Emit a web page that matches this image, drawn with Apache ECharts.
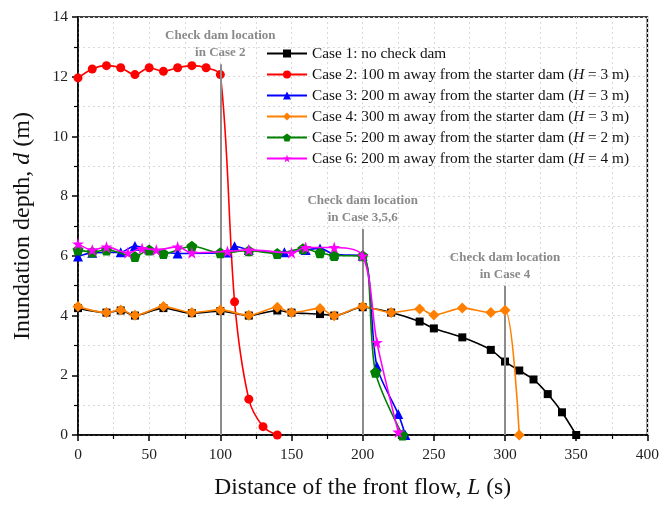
<!DOCTYPE html>
<html><head><meta charset="utf-8">
<script src="https://cdn.jsdelivr.net/npm/echarts@6/dist/echarts.min.js"></script>
<style>html,body{margin:0;padding:0;background:#fff}#c{width:662px;height:505px}</style>
</head><body><div id="c"></div>
<script>
// ---- data ----
const seriesNames = [
  'Case 1: no check dam',
  'Case 2: 100 m away from the starter dam (H = 3 m)',
  'Case 3: 200 m away from the starter dam (H = 3 m)',
  'Case 4: 300 m away from the starter dam (H = 3 m)',
  'Case 5: 200 m away from the starter dam (H = 2 m)',
  'Case 6: 200 m away from the starter dam (H = 4 m)'
];
const case1X = [0,20,30,40,60,80,100,120,140,150,170,180,200,220,240,250,270,290,300,310,320,330,340,350];
const case1Y = [4.25,4.1,4.17,4.0,4.25,4.08,4.15,4.0,4.17,4.1,4.05,4.0,4.28,4.1,3.8,3.57,3.27,2.85,2.46,2.16,1.86,1.37,0.76,0];
const case2X = [0,10,20,30,40,50,60,70,80,90,100,110,120,130,140];
const case2Y = [11.96,12.26,12.37,12.3,12.07,12.3,12.18,12.3,12.37,12.3,12.07,4.46,1.2,0.28,0];
const case3X = [0,10,30,40,50,70,105,110,120,145,160,170,180,200,210,225,230];
const case3Y = [5.98,6.1,6.12,6.33,6.22,6.08,6.11,6.32,6.2,6.12,6.2,6.25,6.05,6.0,2.3,0.7,0];
const case4X = [0,20,30,40,60,80,100,120,140,150,170,180,200,220,240,250,270,290,300,310];
const case4Y = [4.3,4.1,4.19,4.01,4.3,4.1,4.19,4.01,4.28,4.1,4.24,3.99,4.3,4.1,4.22,4.02,4.25,4.1,4.18,0];
const case5X = [0,10,20,40,50,60,80,100,120,140,158,170,180,200,209,228];
const case5Y = [6.2,6.13,6.2,5.98,6.2,6.08,6.32,6.1,6.17,6.08,6.24,6.1,6.01,6.0,2.1,0];
const case6X = [0,10,20,35,45,55,70,80,105,120,150,160,180,200,210,225];
const case6Y = [6.4,6.2,6.3,6.1,6.25,6.2,6.3,6.1,6.15,6.2,6.1,6.28,6.28,6.0,3.1,0.1];
// check dam annotation lines
const damLineX = [100, 200, 300];
const damLineTop = [12.42, 6.9, 5.0];
const damLineCase = ['Case 2', 'Case 3,5,6', 'Case 4'];
const xTicks = [0, 400, 50];
const yTicks = [0, 14, 2];

// ---- styles ----
const colors = ['#000000', '#ff0000', '#0000ff', '#ff8000', '#008000', '#ff00ff'];
const pentagon = 'path://M0,-1L0.951,-0.309L0.588,0.809L-0.588,0.809L-0.951,-0.309Z';
const star = 'path://M0,-1L0.2245,-0.309L0.951,-0.309L0.363,0.118L0.588,0.809L0,0.382L-0.588,0.809L-0.363,0.118L-0.951,-0.309L-0.2245,-0.309Z';
const symbols = ['rect', 'circle', 'triangle', 'diamond', pentagon, star];
const symSizes = [8, 9, 10, 11, 11, 12];
const FONT = 'Liberation Serif';

const xs = [case1X, case2X, case3X, case4X, case5X, case6X];
const ys = [case1Y, case2Y, case3Y, case4Y, case5Y, case6Y];

const series = seriesNames.map((name, i) => ({
  name: name,
  type: 'line',
  data: xs[i].map((x, k) => [x, ys[i][k]]),
  smooth: 0.3,
  symbol: symbols[i],
  symbolSize: symSizes[i],
  showSymbol: true,
  color: colors[i],
  lineStyle: { width: 1.6, color: colors[i] },
  itemStyle: { color: colors[i] },
  z: 3 + i,
  animation: false
}));

series.unshift({
  name: 'damLines',
  type: 'line',
  data: [],
  z: 2,
  markLine: {
    silent: true,
    symbol: ['none', 'none'],
    animation: false,
    lineStyle: { color: '#8c8c8c', width: 2, type: 'solid' },
    label: {
      show: true,
      position: 'end',
      distance: 3,
      color: '#8a8a8a',
      fontFamily: FONT,
      fontWeight: 'bold',
      fontSize: 13,
      lineHeight: 17,
      align: 'center'
    },
    data: damLineX.map((x, i) => [
      { coord: [x, 0], label: { formatter: 'Check dam location\nin ' + damLineCase[i] } },
      { coord: [x, damLineTop[i]] }
    ])
  }
});

const chart = echarts.init(document.getElementById('c'), null, { renderer: 'canvas' });
chart.setOption({
  backgroundColor: '#ffffff',
  animation: false,
  grid: {
    left: 78, right: 11, top: 17, bottom: 69,
    show: true, borderColor: '#000', borderWidth: 1.5, backgroundColor: 'transparent'
  },
  legend: {
    data: seriesNames,
    orient: 'vertical',
    left: 266,
    top: 46,
    itemWidth: 40,
    itemHeight: 10,
    itemGap: 6,
    padding: 0,
    textStyle: {
      fontFamily: FONT, fontSize: 15.3, color: '#111', lineHeight: 14,
      rich: { i: { fontFamily: FONT, fontSize: 15.3, fontStyle: 'italic', color: '#111' } }
    },
    formatter: function (n) { return n.replace('(H =', '({i|H} ='); }
  },
  xAxis: {
    type: 'value',
    min: xTicks[0], max: xTicks[1], interval: xTicks[2],
    name: '{a|Distance of the front flow, }{b|L}{a| (s)}',
    nameLocation: 'middle',
    nameGap: 41,
    nameTextStyle: {
      rich: {
        a: { fontFamily: FONT, fontSize: 23.5, color: '#111' },
        b: { fontFamily: FONT, fontSize: 23.5, fontStyle: 'italic', color: '#111' }
      }
    },
    axisLine: { show: true, onZero: false, lineStyle: { color: '#000', width: 1.5 } },
    axisTick: { show: true, inside: false, length: 6, lineStyle: { color: '#000', width: 1.5 } },
    minorTick: { show: true, splitNumber: 2, length: 4, lineStyle: { color: '#000', width: 1.2 } },
    axisLabel: { fontFamily: FONT, fontSize: 15.5, color: '#222', margin: 12 },
    splitLine: { show: true, lineStyle: { color: '#d9d9d9', type: [2, 3], width: 1 } },
    minorSplitLine: { show: true, lineStyle: { color: '#d9d9d9', type: [2, 3], width: 1 } }
  },
  yAxis: {
    type: 'value',
    min: yTicks[0], max: yTicks[1], interval: yTicks[2],
    name: '{a|Inundation depth, }{b|d}{a| (m)}',
    nameLocation: 'middle',
    nameGap: 43,
    nameTextStyle: {
      rich: {
        a: { fontFamily: FONT, fontSize: 24, color: '#111' },
        b: { fontFamily: FONT, fontSize: 24, fontStyle: 'italic', color: '#111' }
      }
    },
    axisLine: { show: true, onZero: false, lineStyle: { color: '#000', width: 1.5 } },
    axisTick: { show: true, inside: false, length: 6, lineStyle: { color: '#000', width: 1.5 } },
    minorTick: { show: true, splitNumber: 2, length: 4, lineStyle: { color: '#000', width: 1.2 } },
    axisLabel: { fontFamily: FONT, fontSize: 15.5, color: '#222', margin: 10 },
    splitLine: { show: true, lineStyle: { color: '#d9d9d9', type: [2, 3], width: 1 } },
    minorSplitLine: { show: true, lineStyle: { color: '#d9d9d9', type: [2, 3], width: 1 } }
  },
  series: series
});
</script>
</body></html>
